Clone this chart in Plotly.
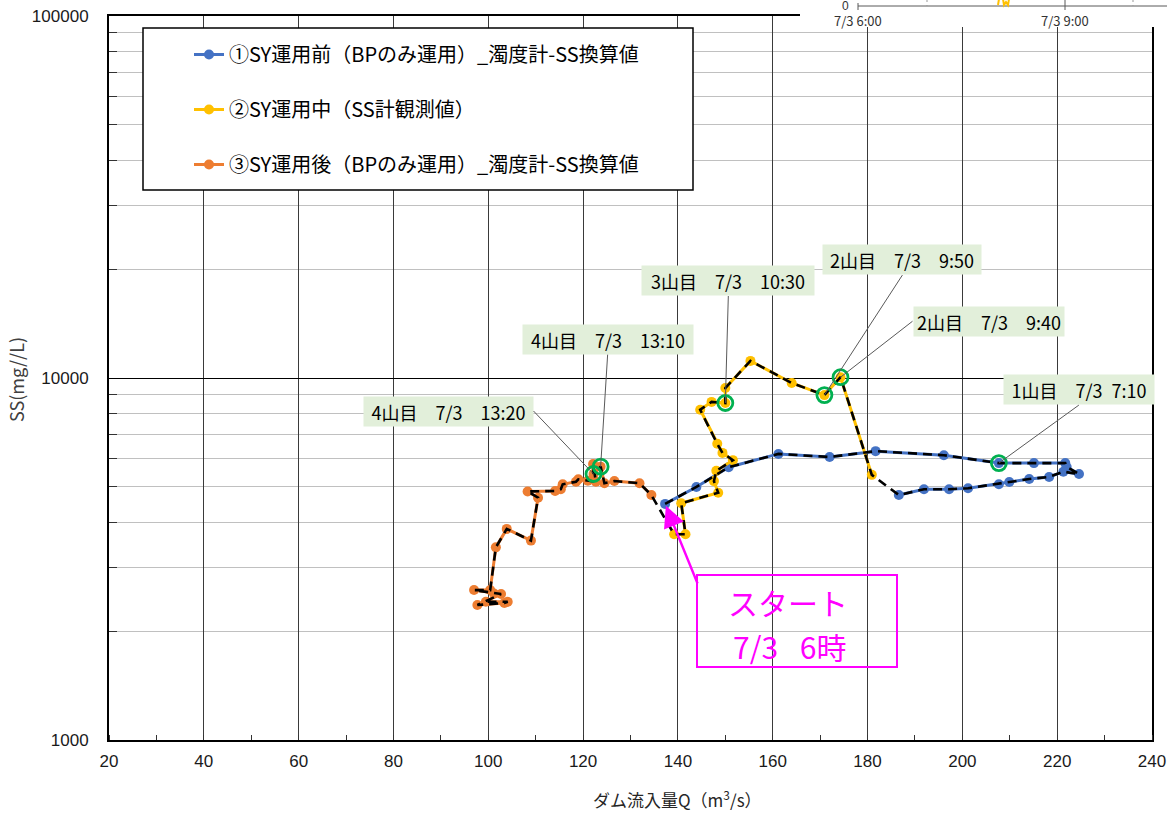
import math
import plotly.graph_objects as go

# ---------------- data ----------------
# ① before SY operation (BP only), turbidity -> SS conversion, 10-min steps from 7/3 6:00
blue_q = [137.3, 143.9, 150.7, 161.2, 172.0, 181.7, 196.1, 207.7, 215.1, 221.7, 222.0,
          224.6, 221.3, 218.3, 214.1, 209.9, 207.7, 201.2, 197.2, 191.9, 186.6]
blue_ss = [4490, 5000, 5670, 6170, 6050, 6280, 6120, 5820, 5820, 5820, 5680,
           5430, 5510, 5330, 5260, 5160, 5090, 4960, 4930, 4930, 4750]

# ② during SY operation (SS meter observations)
yellow_q = [180.9, 174.3, 170.9, 164.0, 155.3, 150.0, 150.0, 147.1, 144.7, 148.3,
            149.4, 151.6, 148.1, 147.6, 148.5, 140.7, 141.6, 139.2]
yellow_ss = [5400, 10050, 8970, 9690, 11150, 9380, 8530, 8590, 8170, 6580,
             6210, 5930, 5540, 5190, 4820, 4510, 3700, 3700]

# ③ after SY operation (BP only), turbidity -> SS conversion
orange_q = [134.4, 131.9, 126.6, 124.5, 123.7, 122.2, 122.1, 122.7, 121.0, 119.0,
            118.5, 115.7, 115.3, 114.1, 108.3, 110.5, 109.0, 103.9, 101.6, 100.4,
            97.0, 101.2, 102.7, 97.7, 103.4, 104.1, 99.5]
orange_ss = [4750, 5120, 5195, 5120, 5690, 5430, 5785, 5170, 5200, 5250,
             5170, 5085, 4930, 4875, 4860, 4670, 3555, 3830, 3405, 2595,
             2595, 2540, 2530, 2360, 2390, 2410, 2410]

series_names = [
    "①SY運用前（BPのみ運用）_濁度計-SS換算値",
    "②SY運用中（SS計観測値）",
    "③SY運用後（BPのみ運用）_濁度計-SS換算値",
]

SP = "\u2002"  # half-width gap
# peak labels: (series, index, text)
peak_labels = [
    ("blue", 7, f"1山目{SP}{SP}7/3{SP}7:10"),
    ("yellow", 2, f"2山目{SP}{SP}7/3{SP}{SP}9:50"),
    ("yellow", 1, f"2山目{SP}{SP}7/3{SP}{SP}9:40"),
    ("yellow", 6, f"3山目{SP}{SP}7/3{SP}{SP}10:30"),
    ("orange", 4, f"4山目{SP}{SP}7/3{SP}{SP}13:10"),
    ("orange", 5, f"4山目{SP}{SP}7/3{SP}{SP}13:20"),
]

start_lines = ["スタート", f"7/3{SP} 6時"]

x_ticks = list(range(20, 241, 20))
y_ticks = [1000, 10000, 100000]
y_tick_text = ["1000", "10000", "100000"]

# ---------------- layout geometry ----------------
W, H = 1167, 813
ML, MR, MT, MB = 109, 15, 16, 73
PW, PH = W - ML - MR, H - MT - MB


def px(x):
    return (x - ML) / PW


def py(y):
    return (H - MB - y) / PH


BLUE, YELLOW, ORANGE, GREEN, MAGENTA = "#4472C4", "#FFC000", "#ED7D31", "#00B050", "#FF00FF"
JP = "Noto Sans CJK JP"
TXT = "#1a1a1a"

data = {
    "blue": (blue_q, blue_ss),
    "yellow": (yellow_q, yellow_ss),
    "orange": (orange_q, orange_ss),
}

fig = go.Figure()

for (key, color), name in zip([("blue", BLUE), ("yellow", YELLOW), ("orange", ORANGE)], series_names):
    q, ss = data[key]
    fig.add_trace(go.Scatter(
        x=q, y=ss, mode="lines+markers", name=name, legendgroup=key,
        line=dict(color=color, width=3), marker=dict(color=color, size=10),
    ))

# black dashed time-trace through all three phases
all_q = blue_q + yellow_q + orange_q
all_ss = blue_ss + yellow_ss + orange_ss
fig.add_trace(go.Scatter(
    x=all_q, y=all_ss, mode="lines", showlegend=False, hoverinfo="skip",
    line=dict(color="black", width=2.6, dash="9px,6px"),
))

# green rings on labelled peaks
ring_q = [data[s][0][i] for s, i, _ in peak_labels]
ring_ss = [data[s][1][i] for s, i, _ in peak_labels]
fig.add_trace(go.Scatter(
    x=ring_q, y=ring_ss, mode="markers", showlegend=False, hoverinfo="skip",
    marker=dict(symbol="circle-open", size=15, color=GREEN, line=dict(width=2.8, color=GREEN)),
))

# label box placement: (ax, ay, xanchor, yanchor)
label_pos = [
    (80, -58, "center", "bottom"),
    (78, -120, "center", "bottom"),
    (72, -56, "left", "middle"),
    (3, -107, "center", "bottom"),
    (7, -112, "center", "bottom"),
    (-60, -63, "right", "middle"),
]
label_w = [148, 156, 148, 170, 168, 167]

annotations = []
for (s, i, txt), (ax, ay, xa, ya), w in zip(peak_labels, label_pos, label_w):
    q, ss = data[s]
    annotations.append(dict(
        x=q[i], y=math.log10(ss[i]), xref="x", yref="y", text=txt,
        showarrow=True, arrowhead=0, arrowwidth=1, arrowcolor="#595959",
        ax=ax, ay=ay, xanchor=xa, yanchor=ya,
        bgcolor="#E2EFDA", borderpad=1, width=w, height=27,
        font=dict(family=JP, size=18, color="black"),
    ))

# start arrow pointing at the first observation
annotations.append(dict(
    x=blue_q[0], y=math.log10(blue_ss[0]), xref="x", yref="y", text="",
    showarrow=True, arrowhead=2, arrowsize=1.7, arrowwidth=2.5, arrowcolor=MAGENTA,
    ax=33, ay=81, standoff=2,
))


def paper_text(x, y, text, size, color=TXT, family=JP, angle=0):
    return dict(x=px(x), y=py(y), xref="paper", yref="paper", text=text, showarrow=False,
                xanchor="center", yanchor="middle", textangle=angle,
                font=dict(family=family, size=size, color=color))


annotations += [
    # start note
    paper_text(788, 602, start_lines[0], 30, MAGENTA),
    paper_text(789, 646, start_lines[1], 30, MAGENTA),
    # axis titles
    paper_text(677, 799, "ダム流入量Q（m<sup>3</sup>/s）", 17, "#262626"),
    paper_text(16, 380, "SS(mg//L)", 18, "#404040", angle=-90),
    # neighbouring time-series panel edge (top right)
    paper_text(845, 6, "0", 12, "#333", "Liberation Sans"),
    paper_text(858, 21, "7/3 6:00", 13, "#333"),
    paper_text(1065, 21, "7/3 9:00", 13, "#333"),
]

shapes = [
    # legend frame
    dict(type="rect", xref="paper", yref="paper", x0=px(143), x1=px(693), y0=py(28), y1=py(190),
         fillcolor="white", line=dict(color="black", width=1.5), layer="above"),
    # start note frame
    dict(type="rect", xref="paper", yref="paper", x0=px(697), x1=px(897), y0=py(575), y1=py(667),
         line=dict(color=MAGENTA, width=2), layer="above"),
    # neighbouring panel
    dict(type="rect", xref="paper", yref="paper", x0=px(800), x1=px(1180), y0=py(-5), y1=py(27),
         fillcolor="white", line=dict(width=0), layer="above"),
    dict(type="line", xref="paper", yref="paper", x0=px(858), x1=px(1170), y0=py(6), y1=py(6),
         line=dict(color="#595959", width=1), layer="above"),
    dict(type="line", xref="paper", yref="paper", x0=px(858), x1=px(858), y0=py(3), y1=py(10),
         line=dict(color="#595959", width=1), layer="above"),
    dict(type="line", xref="paper", yref="paper", x0=px(1065), x1=px(1065), y0=py(-1), y1=py(10),
         line=dict(color="#595959", width=1), layer="above"),
    dict(type="line", xref="paper", yref="paper", x0=px(927), x1=px(927), y0=py(-1), y1=py(6),
         line=dict(color="#999", width=1, dash="dot"), layer="above"),
    dict(type="line", xref="paper", yref="paper", x0=px(1133), x1=px(1133), y0=py(-1), y1=py(6),
         line=dict(color="#999", width=1, dash="dot"), layer="above"),
    dict(type="path", xref="paper", yref="paper",
         path=f"M {px(998)},{py(5)} L {px(999)},{py(-1)} M {px(1003)},{py(-1)} L {px(1004)},{py(5)} "
              f"L {px(1006)},{py(2)} L {px(1008)},{py(5)} L {px(1009)},{py(-1)}",
         line=dict(color=YELLOW, width=2), layer="above"),
]

fig.update_layout(
    width=W, height=H,
    margin=dict(l=ML, r=MR, t=MT, b=MB, autoexpand=False),
    paper_bgcolor="white", plot_bgcolor="white",
    showlegend=True,
    legend=dict(
        x=px(189), y=py(35), xanchor="left", yanchor="top",
        bgcolor="rgba(0,0,0,0)", borderwidth=0, tracegroupgap=26,
        font=dict(family=JP, size=20, color="black"), itemwidth=30,
    ),
    annotations=annotations, shapes=shapes,
    xaxis=dict(
        range=[20, 240], tickvals=x_ticks, ticktext=[str(v) for v in x_ticks],
        showgrid=True, gridcolor="#3a3a3a", gridwidth=1, zeroline=False, automargin=False,
        showline=True, linecolor="black", linewidth=2, mirror=True, ticks="",
        ticklabelstandoff=5,
        tickfont=dict(family="Liberation Sans", size=17, color=TXT),
        minor=dict(dtick=10, tick0=20, ticks="inside", ticklen=5, tickcolor="#333", showgrid=False),
    ),
    yaxis=dict(
        type="log", range=[3, 5], tickvals=y_ticks, ticktext=y_tick_text,
        showgrid=True, gridcolor="black", gridwidth=1, zeroline=False, automargin=False,
        showline=True, linecolor="black", linewidth=2, mirror=True, ticks="",
        ticklabelstandoff=15,
        tickfont=dict(family="Liberation Sans", size=17, color=TXT),
        minor=dict(tickvals=[m * 10 ** e for e in (3, 4) for m in range(2, 10)],
                   ticks="inside", ticklen=8, tickcolor="#333", showgrid=True, gridcolor="#C0C0C0"),
    ),
)

fig.write_html("out.html")
